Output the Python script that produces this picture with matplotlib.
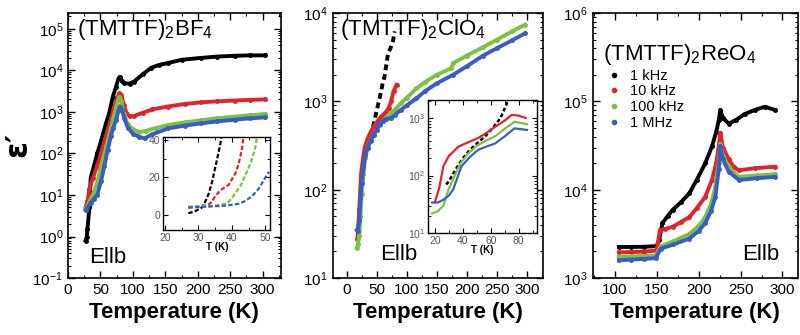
import numpy as np
import matplotlib
matplotlib.use('Agg')
import matplotlib.pyplot as plt
import matplotlib.ticker as mticker
from matplotlib.lines import Line2D

plt.rcParams['font.family'] = ['Liberation Sans', 'DejaVu Sans']
plt.rcParams['mathtext.fontset'] = 'custom'
plt.rcParams['mathtext.rm'] = 'Liberation Sans'
plt.rcParams['mathtext.it'] = 'Liberation Sans:italic'
plt.rcParams['mathtext.bf'] = 'Liberation Sans:bold'

labels = ['1 kHz', '10 kHz', '100 kHz', '1 MHz']
colors = ['#000000', '#e3232b', '#7cc242', '#3a5dc4']

# (TMTTF)2BF4, main panel
bf4_T = [
    [27, 29, 30, 33, 35, 40, 45, 51, 58, 64, 69, 74, 78, 80, 83, 87, 95, 102, 115, 128, 140, 154, 175, 205, 230, 257, 280, 304],
    [27, 30, 33, 38, 45, 51, 58, 64, 70, 75, 79, 82, 86, 90, 95, 102, 115, 130, 154, 180, 205, 230, 257, 280, 304],
    [27, 30, 35, 40, 45, 51, 58, 64, 70, 75, 79, 82, 86, 92, 100, 110, 120, 135, 154, 180, 205, 230, 257, 280, 304],
    [27, 30, 35, 40, 45, 51, 56, 61, 66, 70, 74, 78, 80, 83, 87, 92, 100, 110, 118, 130, 154, 180, 205, 230, 257, 280, 304],
]
bf4_eps = [
    [0.8, 1.0, 1.5, 5, 26, 50, 100, 200, 500, 1000, 2300, 4000, 6500, 7000, 5500, 4900, 4800, 5400, 8000, 11500, 13500, 15000, 18000, 20000, 21500, 22500, 23000, 23000],
    [5, 7, 14, 25, 50, 100, 250, 500, 1100, 2000, 2800, 2600, 1500, 950, 780, 800, 950, 1150, 1350, 1550, 1700, 1800, 1880, 1950, 2000],
    [4.8, 5.5, 8, 12, 20, 50, 130, 300, 700, 1500, 2300, 1800, 900, 500, 380, 330, 350, 410, 480, 560, 630, 700, 770, 830, 890],
    [4.3, 5, 6.5, 8, 10, 22, 49, 120, 260, 420, 630, 1100, 1350, 1100, 700, 420, 300, 250, 230, 290, 400, 470, 530, 590, 650, 700, 740],
]
# (TMTTF)2BF4, inset (linear)
bf4_in_T = [
    [27, 29, 31, 32, 33, 34, 35, 36, 37],
    [27, 30, 33, 34, 35, 36.5, 38, 39, 40, 41, 42, 43, 43.5],
    [27, 35, 38, 39, 40, 42.7, 44.7, 45.7, 47, 47.5],
    [27, 33, 38, 42, 44, 46, 48, 50, 51],
]
bf4_in_eps = [
    [1, 2, 4, 7, 11, 17, 25, 33, 42],
    [4, 4.5, 5.5, 7, 10, 13, 15, 16, 19, 22, 27, 35, 42],
    [4.5, 5, 6, 7, 9, 16, 24, 28, 36, 42],
    [4, 4.5, 5, 6, 7.5, 10, 14, 20, 23],
]

# (TMTTF)2ClO4, main panel
clo4_T = [
    [24, 27, 30, 35, 40, 45, 49, 55, 60, 63, 66, 69, 73, 77, 80],
    [18, 21, 24, 27, 30, 35, 40, 45, 50, 55, 60, 65, 70, 74, 78, 83],
    [17, 19, 21, 23, 25, 28, 31, 35, 40, 45, 50, 55, 60, 65, 72, 80, 90, 100, 116, 130, 150, 174, 177, 200, 227, 250, 275, 297],
    [17, 19, 21, 23, 25, 28, 31, 35, 40, 45, 50, 55, 60, 65, 74, 80, 90, 100, 116, 130, 150, 177, 200, 227, 250, 275, 297],
]
clo4_eps = [
    [90, 180, 260, 330, 420, 550, 730, 1100, 1600, 1900, 2600, 3500, 4000, 4800, 6200],
    [28, 60, 150, 220, 300, 380, 450, 520, 580, 640, 700, 750, 850, 1000, 1300, 1540],
    [22, 24, 30, 50, 90, 150, 230, 300, 370, 420, 480, 540, 600, 650, 730, 800, 950, 1100, 1400, 1650, 2000, 2370, 2700, 3300, 4100, 5000, 6200, 7400],
    [35, 34, 45, 80, 120, 180, 250, 300, 360, 420, 480, 560, 600, 630, 650, 700, 800, 900, 1080, 1300, 1600, 2000, 2500, 3300, 4000, 4900, 5900],
]
# (TMTTF)2ClO4, inset (log)
clo4_in_T = [
    [28, 30, 35, 40, 45, 50, 56, 62, 67, 72],
    [20, 23, 26, 30, 37, 44, 51, 57, 63, 70, 75, 80, 85],
    [18, 22, 26, 30, 33, 38, 44, 50, 56, 63, 70, 77, 86],
    [18, 22, 26, 30, 33, 39, 45, 51, 57, 63, 70, 77, 86],
]
clo4_in_eps = [
    [70, 80, 130, 200, 280, 360, 480, 700, 1000, 1900],
    [35, 60, 145, 220, 320, 380, 450, 550, 700, 900, 1130, 1100, 1000],
    [22, 24, 30, 60, 86, 160, 245, 330, 400, 480, 650, 860, 780],
    [34, 34, 38, 45, 57, 145, 210, 280, 320, 360, 480, 660, 620],
]

# (TMTTF)2ReO4
reo4_T = [
    [105, 120, 135, 150, 153, 157, 163, 169, 179, 189, 198, 208, 216, 221, 224, 226, 229, 236, 245, 255, 267, 279, 291],
    [105, 120, 135, 150, 154, 160, 169, 179, 189, 198, 208, 216, 221, 224, 226, 229, 236, 242, 248, 267, 291],
    [105, 120, 135, 149, 155, 170, 189, 200, 208, 215, 220, 224, 226, 229, 236, 248, 270, 291],
    [105, 120, 135, 149, 155, 170, 189, 200, 208, 215, 220, 224, 226, 229, 236, 248, 270, 291],
]
reo4_eps = [
    [2250, 2250, 2260, 2300, 2700, 4200, 5000, 5900, 7200, 9100, 13000, 20000, 31000, 45000, 61000, 80000, 65000, 56000, 62000, 72000, 80000, 87000, 80000],
    [1950, 1970, 1990, 2050, 3500, 3600, 3800, 4300, 4900, 6200, 8300, 12900, 20000, 31000, 44000, 30000, 22000, 18000, 16600, 17500, 18200],
    [1740, 1760, 1780, 1800, 2300, 2600, 3150, 3900, 4900, 7000, 10700, 20000, 33000, 24000, 18000, 14000, 14500, 15000],
    [1590, 1620, 1650, 1680, 2150, 2400, 2800, 3400, 4200, 5800, 8300, 17000, 31000, 22000, 16000, 12900, 13500, 14000],
]

fig = plt.figure(figsize=(8, 3.35), dpi=100)
ax1 = fig.add_axes([0.085, 0.170, 0.266, 0.791])
ax2 = fig.add_axes([0.416, 0.170, 0.263, 0.791])
ax3 = fig.add_axes([0.741, 0.170, 0.256, 0.791])


def style_main(ax, xlim, ylim):
    ax.set_yscale('log')
    ax.set_xlim(*xlim)
    ax.set_ylim(*ylim)
    ax.xaxis.set_major_locator(mticker.MultipleLocator(50))
    ax.xaxis.set_minor_locator(mticker.MultipleLocator(25))
    ax.yaxis.set_major_locator(mticker.LogLocator(base=10, numticks=20))
    ax.yaxis.set_minor_locator(mticker.LogLocator(base=10, subs=np.arange(2, 10), numticks=40))
    ax.yaxis.set_minor_formatter(mticker.NullFormatter())
    ax.tick_params(which='both', direction='in', top=True, right=True, labelsize=11)
    ax.tick_params(which='major', length=5, width=1)
    ax.tick_params(which='minor', length=2.5, width=0.8)
    for s in ax.spines.values():
        s.set_linewidth(1.2)
    ax.set_xlabel('Temperature (K)', fontsize=16, fontweight='bold', labelpad=4)


def style_inset(ax):
    ax.tick_params(which='both', direction='in', top=True, right=True, labelsize=7.5,
                   labelcolor='#555555', pad=2)
    ax.tick_params(which='major', length=3.5)
    ax.tick_params(which='minor', length=2)
    ax.set_xlabel('T (K)', fontsize=7, fontweight='bold', labelpad=-1)
    for s in ax.spines.values():
        s.set_linewidth(1.0)


# panel 1
for T, e, c in zip(bf4_T, bf4_eps, colors):
    ax1.plot(T, e, '-', color=c, lw=2.8, marker='o', ms=2.5)
style_main(ax1, (0, 328), (0.1, 2.4e5))
ax1.text(0.04, 0.985, r'(TMTTF)$_2$BF$_4$', transform=ax1.transAxes, fontsize=16, va='top')
ax1.text(0.10, 0.055, 'Ellb', transform=ax1.transAxes, fontsize=16)

in1 = fig.add_axes([0.204, 0.313, 0.134, 0.278])
for T, e, c in zip(bf4_in_T, bf4_in_eps, colors):
    in1.plot(T, e, ls=(0, (2, 1)), color=c, lw=1.6)
in1.set_xlim(19.5, 51.5)
in1.set_ylim(-8, 41.5)
in1.xaxis.set_major_locator(mticker.MultipleLocator(10))
in1.xaxis.set_minor_locator(mticker.MultipleLocator(5))
in1.yaxis.set_major_locator(mticker.MultipleLocator(20))
in1.yaxis.set_minor_locator(mticker.MultipleLocator(10))
style_inset(in1)

# panel 2
for T, e, c in zip(clo4_T, clo4_eps, colors):
    if c == '#000000':
        ax2.plot(T, e, ls=(0, (1.5, 1)), color=c, lw=2.8)
    else:
        ax2.plot(T, e, '-', color=c, lw=2.8, marker='o', ms=2.5)
style_main(ax2, (-23, 327), (10, 1e4))
ax2.text(0.033, 0.985, r'(TMTTF)$_2$ClO$_4$', transform=ax2.transAxes, fontsize=16, va='top')
ax2.text(0.224, 0.068, 'Ellb', transform=ax2.transAxes, fontsize=16)

in2 = fig.add_axes([0.535, 0.304, 0.136, 0.397])
for T, e, c in zip(clo4_in_T, clo4_in_eps, colors):
    if c == '#000000':
        in2.plot(T, e, ls=(0, (1.5, 1)), color=c, lw=1.8)
    else:
        in2.plot(T, e, '-', color=c, lw=1.6)
in2.set_yscale('log')
in2.set_xlim(15, 93)
in2.set_ylim(10, 2040)
in2.xaxis.set_major_locator(mticker.MultipleLocator(20))
in2.xaxis.set_minor_locator(mticker.MultipleLocator(10))
in2.yaxis.set_minor_locator(mticker.LogLocator(base=10, subs=np.arange(2, 10), numticks=40))
in2.yaxis.set_minor_formatter(mticker.NullFormatter())
style_inset(in2)

# panel 3
for T, e, c in zip(reo4_T, reo4_eps, colors):
    ax3.plot(T, e, '-', color=c, lw=2.8, marker='o', ms=2.5)
style_main(ax3, (74, 318), (1e3, 1e6))
ax3.text(0.05, 0.89, r'(TMTTF)$_2$ReO$_4$', transform=ax3.transAxes, fontsize=16, va='top')
ax3.text(0.73, 0.068, 'Ellb', transform=ax3.transAxes, fontsize=16)
handles = [Line2D([], [], ls='none', marker='o', ms=3, color=c) for c in colors]
ax3.legend(handles, labels, loc='upper left', bbox_to_anchor=(0.07, 0.79), frameon=False,
           fontsize=10.5, handlelength=1.0, handletextpad=0.6, labelspacing=0.12,
           borderpad=0, borderaxespad=0)

fig.text(0.022, 0.57, "ε′", rotation=90, fontsize=22, fontweight='bold',
         ha='center', va='center', family=['DejaVu Sans'])

fig.savefig('out.png', dpi=100)
